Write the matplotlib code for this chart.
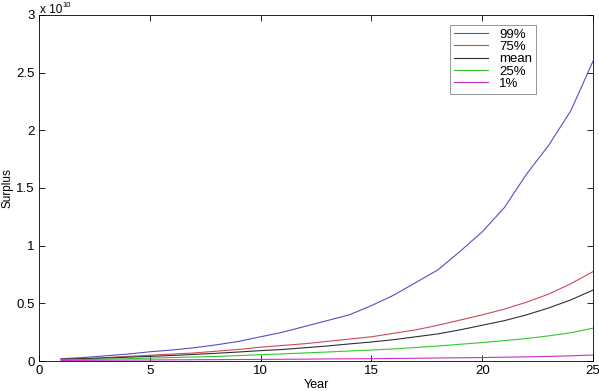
import matplotlib
matplotlib.use("Agg")
import matplotlib.pyplot as plt

plt.rcParams['font.family'] = ['Liberation Sans', 'DejaVu Sans']

years = list(range(1, 26))
# Surplus values in units of 1e10
p99 = [0.02, 0.03, 0.045, 0.06, 0.08, 0.095, 0.115, 0.14, 0.17, 0.21, 0.25, 0.30, 0.35,
       0.40, 0.48, 0.57, 0.68, 0.79, 0.95, 1.12, 1.33, 1.62, 1.87, 2.17, 2.60]
p75 = [0.015, 0.02, 0.03, 0.04, 0.05, 0.06, 0.07, 0.085, 0.10, 0.12, 0.135, 0.15, 0.17,
       0.19, 0.21, 0.24, 0.27, 0.31, 0.355, 0.40, 0.45, 0.51, 0.58, 0.67, 0.775]
pmean = [0.015, 0.02, 0.025, 0.033, 0.04, 0.048, 0.057, 0.067, 0.078, 0.09, 0.10, 0.115, 0.13,
         0.148, 0.165, 0.185, 0.21, 0.235, 0.27, 0.31, 0.35, 0.40, 0.46, 0.53, 0.615]
p25 = [0.01, 0.013, 0.017, 0.02, 0.025, 0.03, 0.035, 0.04, 0.047, 0.055, 0.062, 0.07, 0.078,
       0.087, 0.095, 0.105, 0.117, 0.13, 0.145, 0.16, 0.177, 0.195, 0.218, 0.245, 0.285]
p1 = [0.005, 0.006, 0.007, 0.008, 0.009, 0.010, 0.011, 0.012, 0.013, 0.014, 0.015, 0.016, 0.018,
      0.019, 0.020, 0.022, 0.024, 0.026, 0.028, 0.030, 0.033, 0.036, 0.040, 0.045, 0.052]

series = [("99%", p99, "#5050c8"), ("75%", p75, "#d04858"), ("mean", pmean, "#303030"),
          ("25%", p25, "#30c830"), ("1%", p1, "#c830c8")]

fig = plt.figure(figsize=(5.99, 3.91), dpi=100)
ax = fig.add_axes([0.065, 0.0767, 0.925, 0.885])
for name, vals, col in series:
    ax.plot(years, vals, color=col, lw=0.8, label=name)

ax.set_xlim(0, 25)
ax.set_ylim(0, 3)
ax.set_xticks([0, 5, 10, 15, 20, 25])
ax.set_yticks([0, 0.5, 1, 1.5, 2, 2.5, 3])
ax.set_yticklabels(["0", "0.5", "1", "1.5", "2", "2.5", "3"])
ax.tick_params(direction='in', top=True, right=True, labelsize=9.5, length=4, width=0.6, pad=3)
for s in ax.spines.values():
    s.set_linewidth(0.6)
ax.set_xlabel("Year", fontsize=9, labelpad=1)
ax.set_ylabel("Surplus", fontsize=8.5, va='center')
ax.yaxis.set_label_coords(-0.056, 0.5)
fig.text(40 / 599, 1 - 13 / 391, "x 10", fontsize=8.5, ha='left', va='baseline')
fig.text(62 / 599, 1 - 7 / 391, "10", fontsize=5.5, ha='left', va='baseline')

leg = ax.legend(loc='upper left', bbox_to_anchor=(0.742, 0.972), fontsize=9.5, frameon=True,
                fancybox=False, edgecolor='#666666', handlelength=2.6, labelspacing=0.0,
                borderpad=0.3, handletextpad=0.8, borderaxespad=0)
leg.get_frame().set_linewidth(0.6)

fig.savefig("out.png", dpi=100)
